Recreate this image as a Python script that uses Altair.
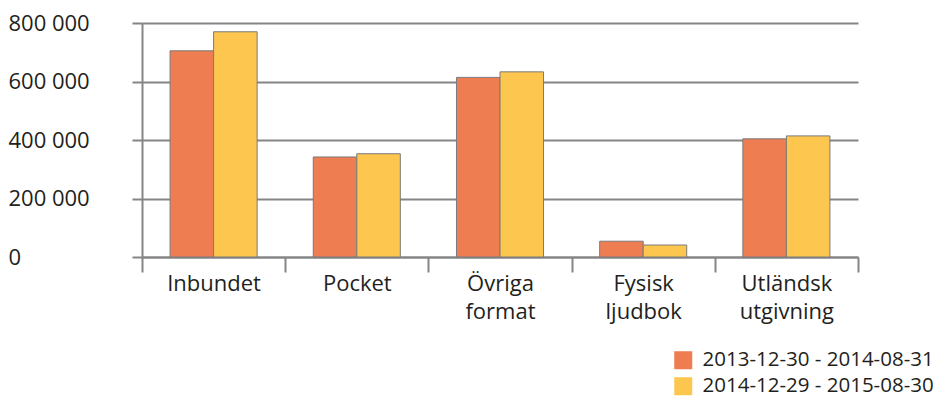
import altair as alt
import pandas as pd

categories = ["Inbundet", "Pocket", "Övriga format", "Fysisk ljudbok", "Utländsk utgivning"]
series = ["2013-12-30 - 2014-08-31", "2014-12-29 - 2015-08-30"]
values_2014 = [705000, 342000, 614000, 54000, 404000]
values_2015 = [770000, 353000, 633000, 41000, 414000]
colors = ["#EE7E52", "#FDC64F"]
y_ticks = [0, 200000, 400000, 600000, 800000]

rows = []
for c, a, b in zip(categories, values_2014, values_2015):
    rows.append({"kategori": c, "period": series[0], "antal": a})
    rows.append({"kategori": c, "period": series[1], "antal": b})
df = pd.DataFrame(rows)

label_expr = (
    "datum.value == 'Övriga format' ? ['Övriga', 'format'] : "
    "datum.value == 'Fysisk ljudbok' ? ['Fysisk', 'ljudbok'] : "
    "datum.value == 'Utländsk utgivning' ? ['Utländsk', 'utgivning'] : datum.value"
)

font = "Open Sans"
text_color = "#231F20"
line_gray = "#858585"

chart = (
    alt.Chart(df)
    .mark_bar(stroke="#7A7A7A", strokeWidth=1)
    .encode(
        x=alt.X(
            "kategori:N",
            sort=categories,
            title=None,
            scale=alt.Scale(paddingInner=0, paddingOuter=0),
            axis=alt.Axis(
                tickBand="extent",
                labelAngle=0,
                labelExpr=label_expr,
                labelFont=font,
                labelFontSize=22,
                labelColor=text_color,
                labelLineHeight=28,
                labelPadding=1,
                labelBaseline="top",
                tickSize=15,
                tickColor=line_gray,
                tickWidth=2,
                domainColor=line_gray,
                domainWidth=2,
                grid=False,
            ),
        ),
        xOffset=alt.XOffset(
            "period:N",
            sort=series,
            scale=alt.Scale(paddingInner=0, paddingOuter=0.645),
        ),
        y=alt.Y(
            "antal:Q",
            title=None,
            scale=alt.Scale(domain=[0, 800000], nice=False),
            axis=alt.Axis(
                values=y_ticks,
                labelExpr="datum.value == 0 ? '0' : format(datum.value / 1000, 'd') + ' 000'",
                labelAlign="left",
                labelPadding=124,
                labelFont=font,
                labelFontSize=22,
                labelColor=text_color,
                tickSize=10,
                tickColor=line_gray,
                tickWidth=2,
                domainColor=line_gray,
                domainWidth=2,
                grid=True,
                gridColor=line_gray,
                gridWidth=2,
            ),
        ),
        color=alt.Color(
            "period:N",
            sort=series,
            title=None,
            scale=alt.Scale(domain=series, range=colors),
            legend=alt.Legend(
                orient="none",
                legendX=531,
                legendY=327,
                padding=0,
                symbolType="square",
                symbolSize=324,
                symbolStrokeWidth=0,
                labelFont=font,
                labelFontSize=20.5,
                labelColor=text_color,
                labelOffset=9,
                rowPadding=5,
                labelLimit=400,
            ),
        ),
    )
    .properties(
        width=716,
        height=234,
        autosize=alt.AutoSizeParams(type="none"),
        padding={"left": 134, "top": 15, "right": 85, "bottom": 143},
    )
    .configure_view(stroke=None)
)

chart.save("out.html", embed_options={"renderer": "svg", "actions": False})
